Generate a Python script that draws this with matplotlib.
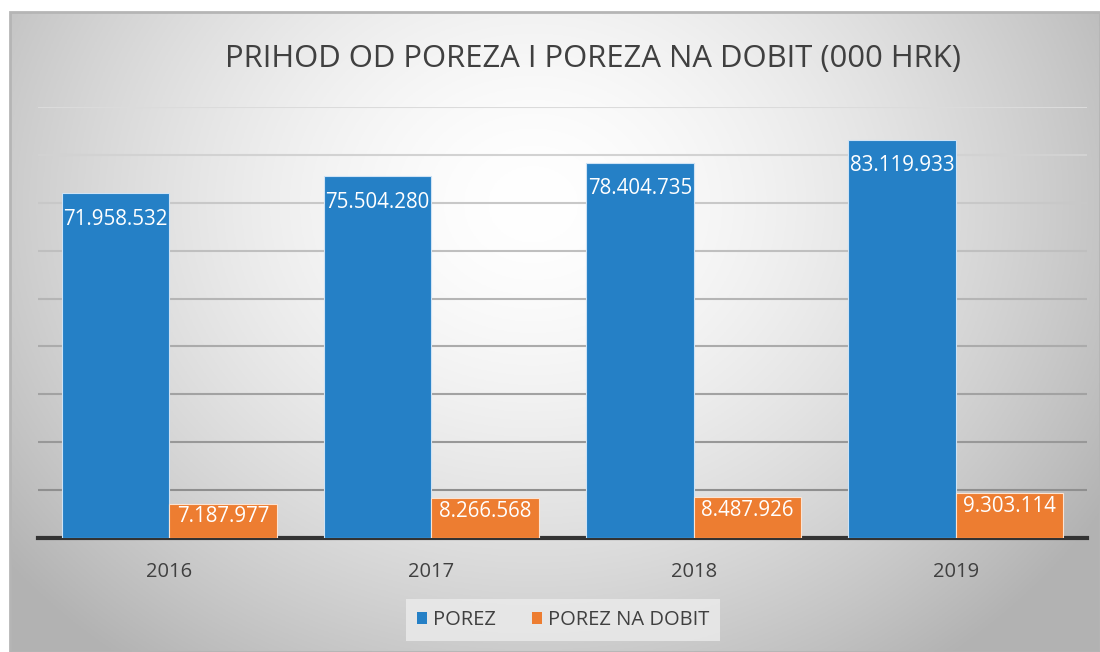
import numpy as np
import matplotlib.pyplot as plt
from matplotlib.patches import Rectangle

years = ['2016', '2017', '2018', '2019']
porez = [71958532, 75504280, 78404735, 83119933]
porez_na_dobit = [7187977, 8266568, 8487926, 9303114]

title = 'PRIHOD OD POREZA I POREZA NA DOBIT (000 HRK)'
blue = '#2580C6'
orange = '#ED7D31'

plt.rcParams['font.family'] = ['Open Sans', 'DejaVu Sans']

W, H = 1100, 652
fig = plt.figure(figsize=(W / 100, H / 100), dpi=100)

# chart area with radial gradient background (Excel style)
x0 = 10 / W
bg = fig.add_axes([x0, 0, 1 - x0, 1 - 12 / H], zorder=0)
gx, gy = np.meshgrid(np.linspace(0, 1, 400), np.linspace(0, 1, 300))
r = np.sqrt(((gx - 0.48) / 0.62) ** 2 + ((gy - 0.3) / 0.9) ** 2)
t = np.clip(r, 0, 1) ** 1.6
shade = 1.0 - 0.30 * t
img = np.dstack([shade, shade, shade])
bg.imshow(img, aspect='auto', extent=[0, 1, 1, 0])
bg.set_xlim(0, 1)
bg.set_ylim(1, 0)
bg.axis('off')
bg.add_patch(Rectangle((0, 0), 1, 1, fill=False, edgecolor='#b5b5b5', lw=2,
                       transform=bg.transAxes, clip_on=False))

# plot area
ax = fig.add_axes([38 / W, 1 - 538 / H, (1087 - 38) / W, (538 - 107) / H], zorder=1)
ax.patch.set_alpha(0)
x = np.arange(len(years))
bw = 0.41
b1 = ax.bar(x - bw / 2, porez, bw, color=blue, edgecolor='#cfe3f5', linewidth=0.8,
            label='POREZ', zorder=3)
b2 = ax.bar(x + bw / 2, porez_na_dobit, bw, color=orange, edgecolor='#fbe3d2',
            linewidth=0.8, label='POREZ NA DOBIT', zorder=3)

def fmt(v):
    return f'{v:,}'.replace(',', '.')

for rect, v in zip(b1, porez):
    ax.annotate(fmt(v), (rect.get_x() + rect.get_width() / 2, v), xytext=(0, -18.5),
                textcoords='offset points', ha='center', va='center',
                color='white', fontsize=14.8, zorder=4)
for rect, v in zip(b2, porez_na_dobit):
    ax.annotate(fmt(v), (rect.get_x() + rect.get_width() / 2, v), xytext=(0, -9.5),
                textcoords='offset points', ha='center', va='center',
                color='white', fontsize=14.8, zorder=4)

ax.set_xlim(-0.5, len(years) - 0.5)
ax.set_ylim(0, 90000000)
ax.set_yticks(np.arange(10000000, 90000001, 10000000))
ax.yaxis.grid(True, linewidth=1.5, zorder=0)
ax.set_axisbelow(True)
# gridlines fade toward the top, like the Excel original
glines = ax.get_ygridlines()
for i, gl in enumerate(glines):
    g = 0.56 + 0.30 * i / (len(glines) - 1)
    gl.set_color((g, g, g))
ax.tick_params(axis='y', left=False, labelleft=False)
ax.tick_params(axis='x', bottom=False, labelsize=14.5, labelcolor='#404040', pad=14)
ax.set_xticks(x)
ax.set_xticklabels(years)
for s in ['top', 'right', 'left']:
    ax.spines[s].set_visible(False)
ax.spines['bottom'].set_color('#333333')
ax.spines['bottom'].set_linewidth(3)

fig.text(593 / W, 1 - 59 / H, title, ha='center', va='center', fontsize=22.3,
         color='#404040')

leg = fig.legend(handles=[b1, b2], loc='center', bbox_to_anchor=(563 / W, 1 - 620 / H),
                 ncol=2, frameon=True, fontsize=14.5, handlelength=0.5,
                 handleheight=0.5, handletextpad=0.3, columnspacing=1.8,
                 borderpad=0.55, fancybox=False, labelcolor='#404040')
leg.get_frame().set_facecolor('#ececec')
leg.get_frame().set_edgecolor('none')
leg.get_frame().set_alpha(0.8)
for h in leg.legend_handles:
    h.set_edgecolor('none')

fig.savefig('out.png', dpi=100)
